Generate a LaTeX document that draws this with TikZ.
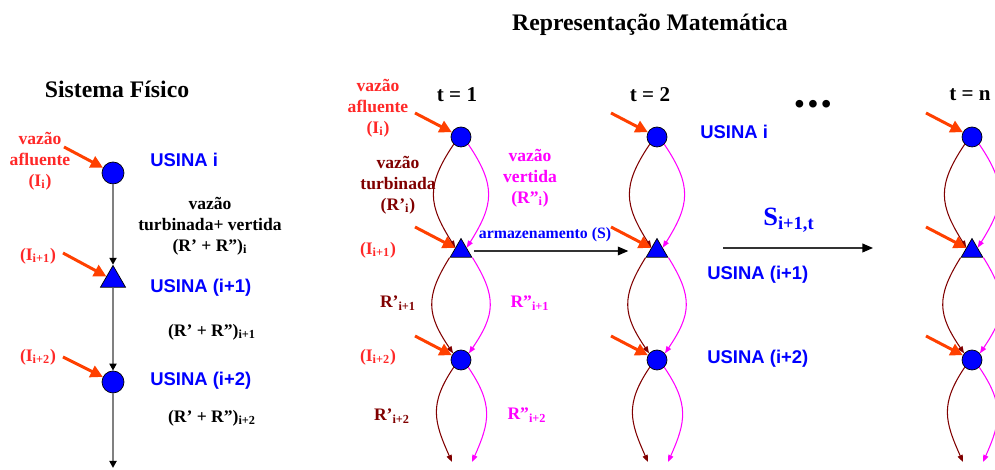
\documentclass[tikz,border=0pt]{standalone}
\usepackage{fontspec}
\setmainfont{Liberation Serif}
\setsansfont{Liberation Sans}
\usepackage{xcolor}
\usetikzlibrary{arrows.meta, shapes.geometric, calc}

\definecolor{aflred}{RGB}{255,40,40}
\definecolor{aflarrow}{RGB}{255,64,0}
\definecolor{turbbrown}{RGB}{128,0,0}
\definecolor{vertmag}{RGB}{255,0,255}
\definecolor{usblue}{RGB}{0,0,255}

\begin{document}
\begin{tikzpicture}[x=0.02cm, y=0.02cm,
  usina/.style={circle, draw=black, fill=usblue, inner sep=0pt, minimum size=0.4cm},
  reserv/.style={regular polygon, regular polygon sides=3, draw=black, fill=usblue,
    inner sep=0pt, minimum size=0.5cm},
  afl/.style={aflarrow, line width=1.7pt, -{Triangle[length=7pt, width=7pt]}},
  turb/.style={turbbrown, line width=0.6pt, -{Triangle[length=4pt, width=3pt]}},
  vert/.style={vertmag, line width=0.6pt, -{Triangle[length=4pt, width=3pt]}},
  fio/.style={draw=gray, line width=1pt, -{Triangle[color=black, length=4pt, width=4pt]}},
  arm/.style={draw=black!80, line width=0.7pt, -{Triangle[color=black, length=6pt, width=5pt]}},
  lbl/.style={font=\bfseries\fontsize{10}{12}\selectfont, align=center},
  usinatxt/.style={font=\sffamily\bfseries\fontsize{10.5}{12}\selectfont, text=usblue,
    anchor=west, inner sep=0pt},
  titulo/.style={font=\bfseries\fontsize{12}{14}\selectfont}]
  \useasboundingbox (0,0) rectangle (995,470);

  % Titles
  \node[titulo, font=\bfseries\fontsize{13.5}{15}\selectfont] (rm) at (650,445) {Representação Matemática};
  \node[titulo, font=\bfseries\fontsize{13.5}{15}\selectfont] (sf) at (117,381) {Sistema Físico};

  % Physical system (left)
  \node[usina, minimum size=0.44cm] (si) at (113,297) {};
  \node[reserv, minimum size=0.58cm] (sj) at (113,190) {};
  \node[usina, minimum size=0.44cm] (sk) at (113,88) {};
  \coordinate (sfim) at (113,2);
  \draw[fio] (si) -- (sj);
  \draw[fio] (sj) -- (sk);
  \draw[fio] (sk) -- (sfim);

  \draw[afl] ($(si)+(-49,26)$) -- (si);
  \draw[afl] ($(sj)+(-50,27)$) -- (sj);
  \draw[afl] ($(sk)+(-50,25)$) -- (sk);

  \node[lbl, text=aflred] (si-afl) at (40,309) {vazão\\afluente\\(I\textsubscript{i})};
  \node[lbl, text=aflred] (sj-afl) at (38,214) {(I\textsubscript{i+1})};
  \node[lbl, text=aflred] (sk-afl) at (38,113) {(I\textsubscript{i+2})};

  \node[usinatxt] (si-txt) at (150,310) {USINA i};
  \node[usinatxt] (sj-txt) at (150,182) {USINA (i+1)};
  \node[usinatxt] (sk-txt) at (150,89) {USINA (i+2)};

  \node[lbl] (si-r) at (210,244) {vazão\\turbinada+ vertida\\(R’ + R”)\textsubscript{i}};
  \node[lbl] (sj-r) at (212,138) {(R’ + R”)\textsubscript{i+1}};
  \node[lbl] (sk-r) at (212,52) {(R’ + R”)\textsubscript{i+2}};

  % Mathematical representation (right)
  \foreach \k/\x/\tx in {1/461/457, 2/657/650, n/972/970} {
    \node[titulo] (t-\k) at (\tx,375) {t = \k};
    \node[usina] (ui-\k) at (\x,333) {};
    \node[reserv] (uj-\k) at (\x,219) {};
    \node[usina] (uk-\k) at (\x,110) {};
    \coordinate (fl-\k) at (\x-9,8);
    \coordinate (fr-\k) at (\x+11,8);

    \draw[turb] (ui-\k.225) to[out=-124, in=122, looseness=1.25] (uj-\k.150);
    \draw[vert] (ui-\k.-45) to[out=-56, in=58, looseness=1.25] (uj-\k.30);
    \draw[turb] (uj-\k.210) to[out=-122, in=124, looseness=1.25] (uk-\k.140);
    \draw[vert] (uj-\k.-30) to[out=-58, in=56, looseness=1.25] (uk-\k.40);
    \draw[turb] (uk-\k.225) to[out=-124, in=114, looseness=1.2] (fl-\k);
    \draw[vert] (uk-\k.-45) to[out=-56, in=66, looseness=1.2] (fr-\k);

    \draw[afl] ($(ui-\k)+(-46,24)$) -- (ui-\k);
    \draw[afl] ($(uj-\k)+(-46,24)$) -- (uj-\k);
    \draw[afl] ($(uk-\k)+(-46,24)$) -- (uk-\k);
  }

  \node[font=\bfseries\fontsize{16}{16}\selectfont] (dots) at (813,363)
    {\textbullet\kern2pt\textbullet\kern2pt\textbullet};

  \node[lbl, text=aflred] (afl-txt) at (378,362) {vazão\\afluente\\(I\textsubscript{i})};
  \node[lbl, text=turbbrown] (turb-txt) at (398,285) {vazão\\turbinada\\(R’\textsubscript{i})};
  \node[lbl, text=vertmag] (vert-txt) at (530,292) {vazão\\vertida\\(R”\textsubscript{i})};
  \node[lbl, text=aflred] (ij-txt) at (378,220) {(I\textsubscript{i+1})};
  \node[lbl, text=aflred] (ik-txt) at (378,113) {(I\textsubscript{i+2})};
  \node[lbl, text=turbbrown] (rj-turb) at (398,167) {R’\textsubscript{i+1}};
  \node[lbl, text=vertmag] (rj-vert) at (530,167) {R”\textsubscript{i+1}};
  \node[lbl, text=turbbrown] (rk-turb) at (392,54) {R’\textsubscript{i+2}};
  \node[lbl, text=vertmag] (rk-vert) at (527,55) {R”\textsubscript{i+2}};

  % Storage
  \node[lbl, text=usblue, font=\bfseries\fontsize{9}{11}\selectfont] (arm-txt) at (545,235) {armazenamento (S)};
  \draw[arm, shorten <=3pt, shorten >=12pt] (uj-1) -- (uj-2);

  \coordinate (sa) at (723,222);
  \coordinate (sb) at (873,222);
  \draw[arm] (sa) -- (sb);
  \node[lbl, text=usblue, font=\bfseries\fontsize{15}{17}\selectfont] (s-txt) at (789,250)
    {S\textsubscript{i+1,t}};

  \node[usinatxt] (ui-txt) at (700,338) {USINA i};
  \node[usinatxt] (uj-txt) at (707,195) {USINA (i+1)};
  \node[usinatxt] (uk-txt) at (707,111) {USINA (i+2)};
\end{tikzpicture}
\end{document}
